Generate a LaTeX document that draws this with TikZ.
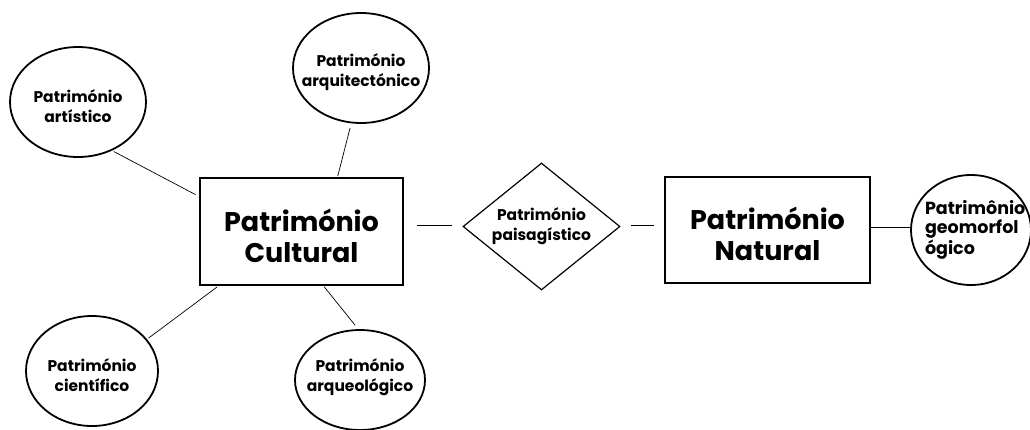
\documentclass[tikz,border=0pt]{standalone}
\usepackage{fontspec}
\setmainfont{Poppins}
\usetikzlibrary{shapes.geometric}
\begin{document}
\begin{tikzpicture}[x=1pt,y=-1pt,
  bubble/.style={ellipse, draw, line width=1.8pt, inner sep=0pt},
  smalltext/.style={align=center, inner sep=0pt, font=\fontsize{15.5}{20}\selectfont\bfseries},
  bigtext/.style={align=center, inner sep=0pt, font=\fontsize{27}{31}\selectfont\bfseries},
  bigbox/.style={rectangle, draw, line width=1.8pt, inner sep=0pt},
  rhomb/.style={diamond, draw, line width=1.2pt, inner sep=0pt, shape aspect=1.24, align=center,
    font=\fontsize{15.5}{20}\selectfont\bfseries},
  link/.style={line width=0.7pt}]
\useasboundingbox (0,0) rectangle (1030,429);
\fill[white] (0,0) rectangle (1030,429);
% main boxes
\node[bigbox, minimum width=203pt, minimum height=107pt,
  label={[bigtext, yshift=-4pt]center:{Património\\Cultural}}] (cult) at (301.5,231.5) {};
\node[bigbox, minimum width=205pt, minimum height=106pt,
  label={[bigtext, yshift=-4pt]center:{Património\\Natural}}] (nat) at (767.5,230) {};
\node[rhomb, minimum width=157pt, minimum height=127pt] (pais) at (541.5,226.5) {Património\\paisagístico};
% bubbles
\node[bubble, minimum width=136pt, minimum height=110pt,
  label={[smalltext, yshift=-4pt]center:{Património\\artístico}}] (art) at (78,102) {};
\node[bubble, minimum width=136pt, minimum height=110pt,
  label={[smalltext, yshift=-4pt]center:{Património\\arquitectónico}}] (arq) at (361,68) {};
\node[bubble, minimum width=132pt, minimum height=110pt,
  label={[smalltext, yshift=-4pt]center:{Património\\científico}}] (cien) at (92,371) {};
\node[bubble, minimum width=130pt, minimum height=100pt,
  label={[smalltext, yshift=3pt]center:{Património\\arqueológico}}] (arqueo) at (360,380) {};
\node[bubble, minimum width=120pt, minimum height=110pt,
  label={[align=left, inner sep=0pt, font=\fontsize{17.5}{19}\selectfont\bfseries, text width=92pt]center:{Patrimônio\\geomorfol\\ógico}}] (geo) at (971,230) {};
% connectors
\draw[link, shorten <=2pt, shorten >=4pt] (art.-55) -- ([yshift=35pt]cult.west);
\draw[link, shorten <=5pt, shorten >=1pt] (arq.-100) -- ([xshift=36pt]cult.north);
\draw[link, shorten <=2pt, shorten >=2pt] (cien.30) -- ([xshift=-83pt]cult.south);
\draw[link, shorten <=5pt, shorten >=1pt] (arqueo.92) -- ([xshift=22pt]cult.south);
\draw[link, shorten <=13pt, shorten >=10pt] ([yshift=6pt]cult.east) -- ([yshift=6pt]cult.east -| pais.west);
\draw[link, shorten <=10pt, shorten >=10pt] ([yshift=1pt]pais.east) -- ([yshift=1pt]pais.east -| nat.west);
\draw[link] ([yshift=3pt]nat.east) -- ([yshift=3pt]nat.east -| geo.west);
\end{tikzpicture}
\end{document}
